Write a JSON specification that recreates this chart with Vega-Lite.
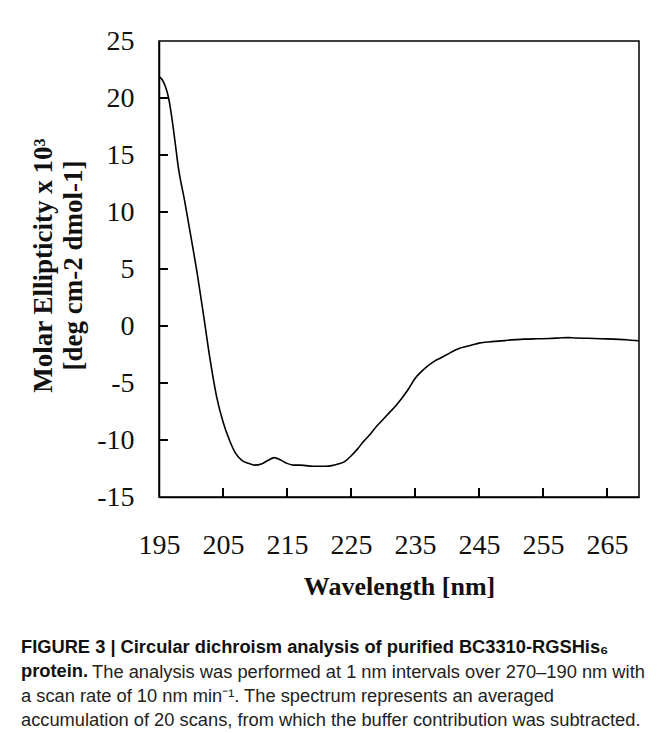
{
  "$schema": "https://vega.github.io/schema/vega-lite/v6.json",
  "autosize": "none",
  "width": 480,
  "height": 456,
  "padding": {"left": 159, "top": 41, "right": 18, "bottom": 236},
  "background": "white",
  "config": {
    "view": {"stroke": "#000", "strokeWidth": 1.5},
    "font": "Liberation Serif"
  },
  "title": {
    "text": ["FIGURE 3 | Circular dichroism analysis of purified BC3310-RGSHis₆", "protein."],
    "subtitle": ["\u200b\u00a0\u00a0\u00a0\u00a0\u00a0\u00a0\u00a0\u00a0\u00a0\u00a0\u00a0\u00a0\u00a0\u00a0The analysis was performed at 1 nm intervals over 270–190 nm with", "a scan rate of 10 nm min⁻¹. The spectrum represents an averaged", "accumulation of 20 scans, from which the buffer contribution was subtracted."],
    "orient": "bottom",
    "anchor": "start",
    "frame": "bounds",
    "font": "Liberation Sans",
    "fontSize": 18.3,
    "fontWeight": "bold",
    "color": "#111",
    "lineHeight": 24,
    "subtitleFont": "Liberation Sans",
    "subtitleFontSize": 18.3,
    "subtitleFontWeight": "normal",
    "subtitleColor": "#222",
    "subtitleLineHeight": 24,
    "subtitlePadding": -17.3,
    "offset": 40,
    "dx": -8
  },
  "datasets": {
    "curve": [
      {"wl": 195, "me": 21.9},
      {"wl": 195.5, "me": 21.6},
      {"wl": 196, "me": 21.0},
      {"wl": 196.5, "me": 20.0},
      {"wl": 197, "me": 18.3},
      {"wl": 197.5, "me": 16.2},
      {"wl": 198, "me": 14.0},
      {"wl": 199, "me": 11.0},
      {"wl": 200, "me": 7.8},
      {"wl": 201, "me": 4.5},
      {"wl": 202, "me": 0.8},
      {"wl": 203, "me": -3.0},
      {"wl": 204, "me": -6.2},
      {"wl": 205, "me": -8.4},
      {"wl": 206, "me": -10.0},
      {"wl": 207, "me": -11.2},
      {"wl": 208, "me": -11.8},
      {"wl": 209, "me": -12.05},
      {"wl": 210, "me": -12.2},
      {"wl": 211, "me": -12.1},
      {"wl": 212, "me": -11.8},
      {"wl": 213, "me": -11.55},
      {"wl": 214, "me": -11.75},
      {"wl": 215, "me": -12.05},
      {"wl": 216, "me": -12.2},
      {"wl": 217, "me": -12.2},
      {"wl": 218, "me": -12.25},
      {"wl": 219, "me": -12.3},
      {"wl": 220, "me": -12.3},
      {"wl": 221, "me": -12.3},
      {"wl": 222, "me": -12.25},
      {"wl": 223, "me": -12.1},
      {"wl": 224, "me": -11.9},
      {"wl": 225, "me": -11.4},
      {"wl": 226, "me": -10.8},
      {"wl": 227, "me": -10.1},
      {"wl": 228, "me": -9.5},
      {"wl": 229, "me": -8.8},
      {"wl": 230, "me": -8.2},
      {"wl": 231, "me": -7.6},
      {"wl": 232, "me": -7.0},
      {"wl": 233, "me": -6.3},
      {"wl": 234, "me": -5.5},
      {"wl": 235, "me": -4.6},
      {"wl": 236, "me": -4.0},
      {"wl": 237, "me": -3.5},
      {"wl": 238, "me": -3.1},
      {"wl": 239, "me": -2.8},
      {"wl": 240, "me": -2.5},
      {"wl": 241, "me": -2.2},
      {"wl": 242, "me": -1.95},
      {"wl": 243, "me": -1.8},
      {"wl": 244, "me": -1.65},
      {"wl": 245, "me": -1.5},
      {"wl": 246, "me": -1.42},
      {"wl": 247, "me": -1.37},
      {"wl": 248, "me": -1.33},
      {"wl": 249, "me": -1.28},
      {"wl": 250, "me": -1.22},
      {"wl": 252, "me": -1.15},
      {"wl": 254, "me": -1.12},
      {"wl": 256, "me": -1.1},
      {"wl": 258, "me": -1.03},
      {"wl": 259, "me": -1.02},
      {"wl": 260, "me": -1.05},
      {"wl": 262, "me": -1.08},
      {"wl": 264, "me": -1.12},
      {"wl": 266, "me": -1.15},
      {"wl": 268, "me": -1.2},
      {"wl": 270, "me": -1.3}
    ],
    "xticks": [
      {"wl": 205}, {"wl": 215}, {"wl": 225}, {"wl": 235}, {"wl": 245}, {"wl": 255}, {"wl": 265}
    ],
    "yticks": [
      {"me": -10}, {"me": -5}, {"me": 0}, {"me": 5}, {"me": 10}, {"me": 15}, {"me": 20}
    ]
  },
  "layer": [
    {
      "data": {"name": "curve"},
      "mark": {"type": "line", "color": "#000", "strokeWidth": 1.6, "interpolate": "monotone"},
      "encoding": {
        "x": {
          "field": "wl",
          "type": "quantitative",
          "scale": {"domain": [195, 270], "nice": false, "zero": false},
          "axis": {
            "orient": "bottom",
            "title": "Wavelength [nm]",
            "values": [195, 205, 215, 225, 235, 245, 255, 265],
            "grid": false,
            "ticks": false,
            "domainColor": "#000",
            "domainWidth": 1.5,
            "labelFont": "Liberation Serif",
            "labelFontSize": 28,
            "labelColor": "#111",
            "labelPadding": 34,
            "labelFlush": false,
            "labelOverlap": false,
            "titleFont": "Liberation Serif",
            "titleFontSize": 26,
            "titleFontWeight": "bold",
            "titleColor": "#111",
            "titlePadding": 14
          }
        },
        "y": {
          "field": "me",
          "type": "quantitative",
          "scale": {"domain": [-15, 25], "nice": false, "zero": false},
          "axis": {
            "orient": "left",
            "title": ["Molar Ellipticity x 10³", "[deg cm-2 dmol-1]"],
            "values": [-15, -10, -5, 0, 5, 10, 15, 20, 25],
            "labelExpr": "'' + datum.value",
            "grid": false,
            "ticks": false,
            "domainColor": "#000",
            "domainWidth": 1.5,
            "labelFont": "Liberation Serif",
            "labelFontSize": 28,
            "labelColor": "#111",
            "labelPadding": 25,
            "labelFlush": false,
            "labelOverlap": false,
            "titleFont": "Liberation Serif",
            "titleFontSize": 27,
            "titleFontWeight": "bold",
            "titleColor": "#111",
            "titleLineHeight": 30,
            "titleAngle": -90,
            "titleAlign": "center",
            "titleBaseline": "middle",
            "titleX": -116,
            "titleY": 224
          }
        }
      }
    },
    {
      "data": {"name": "xticks"},
      "mark": {"type": "rule", "color": "#000", "strokeWidth": 2},
      "encoding": {
        "x": {"field": "wl", "type": "quantitative"},
        "y": {"datum": -15},
        "y2": {"datum": -14.2}
      }
    },
    {
      "data": {"name": "yticks"},
      "mark": {"type": "rule", "color": "#000", "strokeWidth": 2},
      "encoding": {
        "x": {"datum": 195},
        "x2": {"datum": 196.4},
        "y": {"field": "me", "type": "quantitative"}
      }
    }
  ]
}
